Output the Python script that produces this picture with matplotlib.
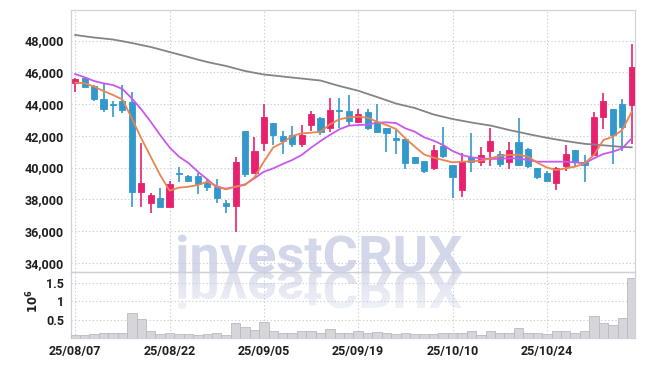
import numpy as np
import matplotlib
matplotlib.use('Agg')
import matplotlib.pyplot as plt
from matplotlib.textpath import TextPath
from matplotlib.font_manager import FontProperties
from matplotlib.patches import PathPatch
from matplotlib.transforms import Affine2D

# ---------------- data ----------------
dates = ["25/08/07", "25/08/08", "25/08/11", "25/08/12", "25/08/13", "25/08/14", "25/08/18", "25/08/19",
         "25/08/20", "25/08/21", "25/08/22", "25/08/25", "25/08/26", "25/08/27", "25/08/28", "25/08/29",
         "25/09/01", "25/09/02", "25/09/03", "25/09/04", "25/09/05", "25/09/08", "25/09/09", "25/09/10",
         "25/09/11", "25/09/12", "25/09/15", "25/09/16", "25/09/17", "25/09/18", "25/09/19", "25/09/22",
         "25/09/23", "25/09/24", "25/09/25", "25/09/26", "25/09/29", "25/09/30", "25/10/01", "25/10/02",
         "25/10/10", "25/10/13", "25/10/14", "25/10/15", "25/10/16", "25/10/17", "25/10/20", "25/10/21",
         "25/10/22", "25/10/23", "25/10/24", "25/10/27", "25/10/28", "25/10/29", "25/10/30", "25/10/31",
         "25/11/03", "25/11/04", "25/11/05", "25/11/06"]

opens = [45347, 45620, 45137, 44318, 44024, 44213, 44108, 38480, 37787, 38081,
         37535, 39656, 39467, 39467, 39047, 38795, 37766, 37598, 42302, 39677,
         41525, 42785, 41987, 42050, 41483, 42680, 43121, 42470, 43625, 43562,
         42890, 43499, 42890, 42512, 41882, 41798, 40685, 40412, 39992, 41357,
         40160, 38585, 40643, 40370, 41063, 40832, 40370, 41609, 41168, 39992,
         39677, 39005, 40118, 41105, 40370, 40790, 43163, 43709, 44024, 43919]
highs = [45620, 45683, 45179, 45347, 44213, 45200, 44738, 41566, 38375, 38690,
         39173, 40013, 39550, 39635, 39257, 39257, 37955, 40643, 42302, 41945,
         44003, 42785, 42302, 42617, 42680, 43583, 43163, 44360, 44360, 44549,
         43709, 43709, 44003, 42512, 42365, 41798, 40685, 40412, 41420, 42533,
         40160, 40895, 42155, 41273, 42470, 41063, 41630, 43100, 41210, 39992,
         39803, 40055, 41441, 41105, 40790, 43478, 44717, 43709, 44339, 47783]
lows = [44780, 45053, 44213, 43520, 43163, 43415, 37535, 37535, 37115, 37535,
        37535, 39110, 39110, 38333, 38501, 37787, 37115, 35918, 39425, 39677,
        41063, 41420, 40832, 41273, 41273, 42323, 42029, 42260, 42512, 42680,
        42827, 42365, 42155, 40999, 40832, 39887, 40265, 39635, 39845, 40622,
        38060, 38165, 39698, 40097, 40097, 40055, 39887, 40097, 39950, 39278,
        39173, 38564, 39782, 40055, 39110, 40790, 42428, 40223, 41042, 41483]
closes = [45578, 45095, 44339, 43709, 43940, 43646, 38480, 39005, 38249, 37535,
          38942, 39614, 39173, 38942, 38774, 38102, 37598, 40349, 39614, 41042,
          43205, 42050, 41672, 41483, 42050, 43373, 42218, 43625, 43583, 42953,
          43373, 42512, 42260, 42197, 41756, 40307, 40265, 39803, 41105, 40727,
          39425, 40412, 40328, 40790, 41693, 40223, 41105, 40160, 40097, 39383,
          39173, 39950, 40853, 40370, 40160, 43205, 44213, 42029, 42575, 46355]

ma_short = [45347, 45305, 45095, 44822, 44570, 44297, 43100, 41840, 40685, 39530,
            38543, 38732, 38795, 38900, 39110, 38837, 38627, 38795, 38900, 39383,
            40370, 41273, 41567, 41987, 42155, 42190, 42260, 42722, 43037, 43163,
            43205, 43142, 42890, 42680, 42428, 41840, 41315, 40820, 40622, 40475,
            40328, 40370, 40391, 40433, 40580, 40727, 40790, 40811, 40685, 40307,
            40000, 39845, 39950, 40055, 40265, 40790, 41735, 41945, 42365, 43520]
ma_mid = [45893, 45683, 45452, 45305, 45200, 44948, 44360, 43667, 42890, 42050,
          41273, 40685, 40290, 39740, 39257, 38753, 38669, 38795, 38942, 39320,
          39740, 39950, 40223, 40475, 40790, 41250, 41672, 42050, 42407, 42638,
          42680, 42701, 42827, 42848, 42806, 42470, 42260, 41903, 41693, 41420,
          41042, 40790, 40643, 40580, 40538, 40559, 40580, 40580, 40475, 40370,
          40370, 40370, 40370, 40328, 40265, 40580, 40853, 41000, 41210, 41840]
ma_long = [48350, 48270, 48190, 48130, 48066, 47960, 47846, 47720, 47594, 47440,
           47279, 47120, 46964, 46800, 46649, 46520, 46397, 46240, 46082, 45970,
           45861, 45800, 45735, 45670, 45609, 45545, 45483, 45310, 45137, 44990,
           44841, 44640, 44444, 44240, 44034, 43890, 43751, 43545, 43341, 43200,
           43058, 42950, 42837, 42740, 42648, 42510, 42365, 42240, 42113, 41990,
           41873, 41770, 41672, 41580, 41495, 41450, 41401, 41350, 41294, 41275]

volume_m = [0.07, 0.07, 0.10, 0.15, 0.13, 0.15, 0.67, 0.51, 0.19, 0.10,
            0.13, 0.10, 0.10, 0.07, 0.10, 0.13, 0.07, 0.40, 0.29, 0.22,
            0.43, 0.19, 0.13, 0.13, 0.20, 0.20, 0.13, 0.24, 0.13, 0.15,
            0.20, 0.15, 0.17, 0.15, 0.12, 0.13, 0.10, 0.10, 0.10, 0.13,
            0.15, 0.15, 0.20, 0.07, 0.20, 0.15, 0.15, 0.27, 0.13, 0.15,
            0.12, 0.20, 0.20, 0.13, 0.20, 0.59, 0.41, 0.36, 0.54, 1.64]

price_ticks = [34000, 36000, 38000, 40000, 42000, 44000, 46000, 48000]
vol_ticks = [0.5, 1.0, 1.5]
vol_tick_labels = ["0.5", "1", "1.5"]
date_tick_idx = [0, 10, 20, 30, 40, 50]

# ---------------- style ----------------
UP = '#E8216E'
DOWN = '#3398CB'
C_SHORT = '#EA8450'
C_MID = '#C858EE'
C_LONG = '#848484'
GRID = '#c6c6d8'
SPINE = '#d0d0d6'
TXT = '#1e1e1e'
tick_font = dict(family='Roboto', size=9, weight='bold')

W, H = 645, 366
fig = plt.figure(figsize=(W / 100, H / 100), dpi=100)
fig.patch.set_facecolor('white')

# background axes in pixel units for the watermark
bg = fig.add_axes([0, 0, 1, 1], zorder=-1)
bg.axis('off')

fp = FontProperties(family='Roboto', weight='bold')
tp = TextPath((0, 0), 'investCRUX', size=50, prop=fp)
bb = tp.get_extents()
cap = TextPath((0, 0), 'C', size=50, prop=fp).get_extents()
sx = 284 / bb.width
sy = 37 / cap.height
x0 = 178
base = H - 272
tr = Affine2D().translate(-bb.x0, 0).scale(sx, sy).translate(x0, base)
bg.add_patch(PathPatch(tr.transform_path(tp), facecolor='#d3d7e9', edgecolor='none'))
rtr = Affine2D().translate(-bb.x0, 0).scale(sx, -sy).translate(x0, base)
rp = PathPatch(rtr.transform_path(tp), facecolor='none', edgecolor='none')
bg.add_patch(rp)
n = 60
grad = np.zeros((n, 1, 4))
grad[:, 0, 0] = 0.83
grad[:, 0, 1] = 0.85
grad[:, 0, 2] = 0.91
grad[:, 0, 3] = np.linspace(0.8, 0.2, n)
im = bg.imshow(grad, extent=[x0 - 5, x0 + 295, base - 48, base], aspect='auto',
               origin='upper', interpolation='bilinear')
im.set_clip_path(rp)
bg.set_xlim(0, W)
bg.set_ylim(0, H)

left = 71 / W
width = 564 / W
ax = fig.add_axes([left, (H - 272) / H, width, 262 / H])
axv = fig.add_axes([left, (H - 338) / H, width, 66 / H], sharex=ax)
for a in (ax, axv):
    a.set_facecolor('none')
    for s in a.spines.values():
        s.set_color(SPINE)
        s.set_linewidth(0.9)

x = np.arange(len(dates))
o = np.array(opens); c = np.array(closes)
hi = np.array(highs); lo = np.array(lows)
up = c >= o
cols = np.where(up, UP, DOWN)

ax.vlines(x, lo, hi, colors=cols, linewidth=1.2, zorder=3)
ax.bar(x, np.abs(c - o), bottom=np.minimum(o, c), width=0.65, color=cols,
       edgecolor=cols, linewidth=0.6, zorder=4)

ax.plot(x, ma_long, color=C_LONG, lw=1.3, zorder=5)
ax.plot(x, ma_mid, color=C_MID, lw=1.3, zorder=5)
ax.plot(x, ma_short, color=C_SHORT, lw=1.3, zorder=6)

ax.set_xlim(-0.45, 59.35)
ax.set_ylim(33420, 49925)
ax.set_yticks(price_ticks)
ax.set_yticklabels([f"{v:,}" for v in price_ticks], fontdict=tick_font, color=TXT)
ax.set_xticks(date_tick_idx)
ax.tick_params(axis='x', labelbottom=False, length=0)
ax.tick_params(axis='y', length=0, pad=5)
ax.grid(True, linestyle=(0, (1, 2.2)), color=GRID, linewidth=0.8)
ax.set_axisbelow(True)

axv.bar(x, volume_m, width=1.0, color='#d6d6da', edgecolor='#b9b9c0', linewidth=0.6, zorder=3)
axv.set_ylim(0, 1.8)
axv.set_yticks(vol_ticks)
axv.set_yticklabels(vol_tick_labels, fontdict=tick_font, color=TXT)
axv.set_xticks(date_tick_idx)
axv.set_xticklabels([dates[i] for i in date_tick_idx], fontdict=tick_font, color=TXT)
axv.tick_params(axis='both', length=0)
axv.tick_params(axis='y', pad=5)
axv.tick_params(axis='x', pad=5)
axv.grid(True, linestyle=(0, (1, 2.2)), color=GRID, linewidth=0.8)
axv.set_axisbelow(True)

fig.text(33 / W, (H - 301) / H, r'$\mathbf{10^6}$', rotation=90, ha='center', va='center',
         fontsize=8.5, color=TXT)

fig.savefig('out.png', dpi=100, facecolor='white')
